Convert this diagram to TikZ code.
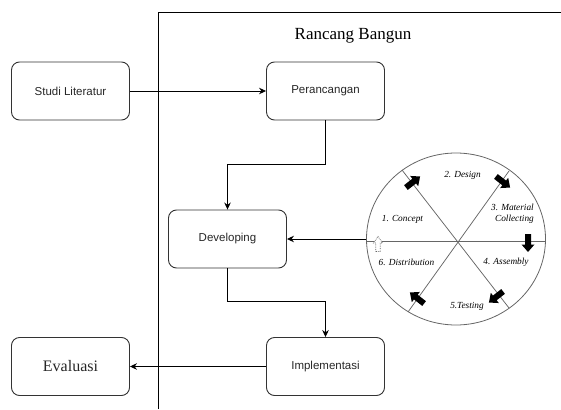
\documentclass[tikz,border=0pt]{standalone}
\usepackage{fontspec}
\setmainfont{Liberation Serif}
\newfontfamily\arialf{Liberation Sans}
\usetikzlibrary{arrows.meta,shapes.geometric}
\tikzset{
 box/.style={draw=black!80, line width=0.9pt, rounded corners=8pt, minimum width=118pt, minimum height=58pt, inner sep=0pt, font=\arialf\fontsize{11.5}{13}\selectfont, text=black!85},
 conn/.style={line width=0.9pt, -{Stealth[length=7pt,width=6.5pt]}},
 wheelline/.style={draw=black!60, line width=0.75pt},
 steplabel/.style={font=\fontsize{9.3}{10}\selectfont\itshape, text=black, inner sep=0pt},
 blockarr/.style={fill=black, draw=none},
 dotarr/.style={draw=black!60, densely dotted, line width=0.7pt, fill=white},
}
\begin{document}
\begin{tikzpicture}[x=1pt,y=-1pt]
\useasboundingbox (0,0) rectangle (561,409);
% frame of Rancang Bangun
\draw[line width=0.9pt] (158,409) -- (158,12.3) -- (561,12.3);
\node[font=\fontsize{17}{20}\selectfont] (title) at (353,36) {Rancang Bangun};

% boxes
\node[box] (studi) at (70.5,91) {Studi Literatur};
\node[box] (per) at (325.5,91) {Perancangan};
\node[box] (dev) at (227.5,239) {Developing};
\node[box] (imp) at (325.5,366.5) {Implementasi};
\node[box, font=\fontsize{16}{18}\selectfont] (eva) at (70.5,366.5) {Evaluasi};

% wheel
\node[draw=black!60, line width=0.8pt, ellipse, minimum width=179pt, minimum height=172pt, inner sep=0pt] (wheel) at (456,239) {};
\draw[wheelline] (366.5,241) -- (545.5,241);
\draw[wheelline] (402,170) -- (509,308);
\draw[wheelline] (509,171) -- (408,312);

\foreach \px/\py/\ang in {413/182/38, 503/182/-38, 528/243/-90, 496/297/-142, 417/298/142}
  \path[blockarr, shift={(\px,\py)}, rotate=\ang] (-9,-3) -- (1.5,-3) -- (1.5,-6.5) -- (9,0) -- (1.5,6.5) -- (1.5,3) -- (-9,3) -- cycle;
\path[dotarr, shift={(378,244)}, rotate=90] (-7.5,-2.2) -- (1,-2.2) -- (1,-4.5) -- (7.5,0) -- (1,4.5) -- (1,2.2) -- (-7.5,2.2) -- cycle;

\node[steplabel] (l1) at (402.5,219) {1. Concept};
\node[steplabel] (l2) at (462.5,175) {2. Design};
\node[steplabel, anchor=east] (l3a) at (534,207.5) {3. Material};
\node[steplabel, anchor=east] (l3b) at (534,219.5) {Collecting};
\node[steplabel] (l4) at (506,262) {4. Assembly};
\node[steplabel] (l5) at (467,306) {5.Testing};
\node[steplabel] (l6) at (406.5,262) {6. Distribution};

% connectors
\draw[conn] (studi.east) -- (per.west);
\draw[conn] (per.south) -- ++(0,44) -| (dev.north);
\draw[conn] (dev.south) -- ++(0,33) -| (imp.north);
\draw[conn] (imp.west) -- (eva.east);
\draw[conn] (wheel.west) -- (dev.east);
\end{tikzpicture}
\end{document}
